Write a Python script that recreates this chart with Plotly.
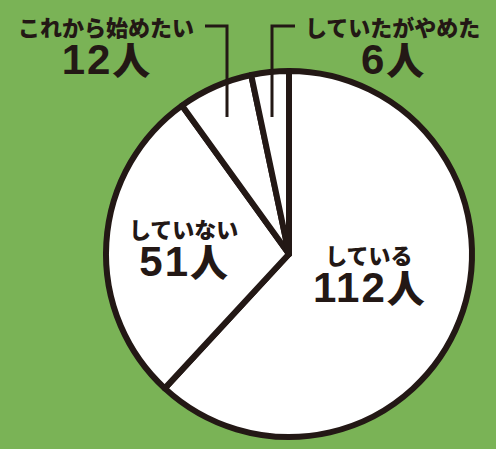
import plotly.graph_objects as go

labels = ["している", "していない", "これから始めたい", "していたがやめた"]
values = [112, 51, 12, 6]
unit = "人"

W, H = 496, 449
bg = "#7ab356"
ink = "#231815"

fig = go.Figure(go.Pie(
    labels=labels, values=values, sort=False, direction="clockwise", rotation=0,
    marker=dict(colors=["#ffffff"] * len(values), line=dict(color=ink, width=6)),
    textinfo="none", hoverinfo="label+value", showlegend=False,
    domain=dict(x=[106 / W, 472 / W], y=[12 / H, 378 / H]),
))

# pixel centre of each two-line label block
pos = [(369, 275), (183, 249), (106, 48), (392, 48)]
font = "Noto Sans CJK JP"
ann = []
for lab, v, (cx, cy) in zip(labels, values, pos):
    txt = (f'<span style="font-size:22px">{lab}</span><br>'
           f'<span style="font-family:\'Liberation Sans\', Arial;font-size:42px;letter-spacing:2px">{v}</span>'
           f'<span style="font-size:38px">{unit}</span>')
    ann.append(dict(x=cx / W, y=1 - cy / H, xref="paper", yref="paper", text=txt, showarrow=False,
                    align="center", xanchor="center", yanchor="middle",
                    font=dict(family=font, size=29, color=ink, weight=900)))

shapes = []
for pts in [[(205, 26), (227, 26), (227, 117)], [(295, 26), (272, 26), (272, 117)]]:
    path = "M " + " L ".join(f"{x / W} {1 - y / H}" for x, y in pts)
    shapes.append(dict(type="path", xref="paper", yref="paper", path=path, line=dict(color=ink, width=3)))

fig.update_layout(width=W, height=H, margin=dict(l=0, r=0, t=0, b=0),
                  paper_bgcolor=bg, plot_bgcolor=bg, annotations=ann, shapes=shapes)
fig.write_html("out.html")
